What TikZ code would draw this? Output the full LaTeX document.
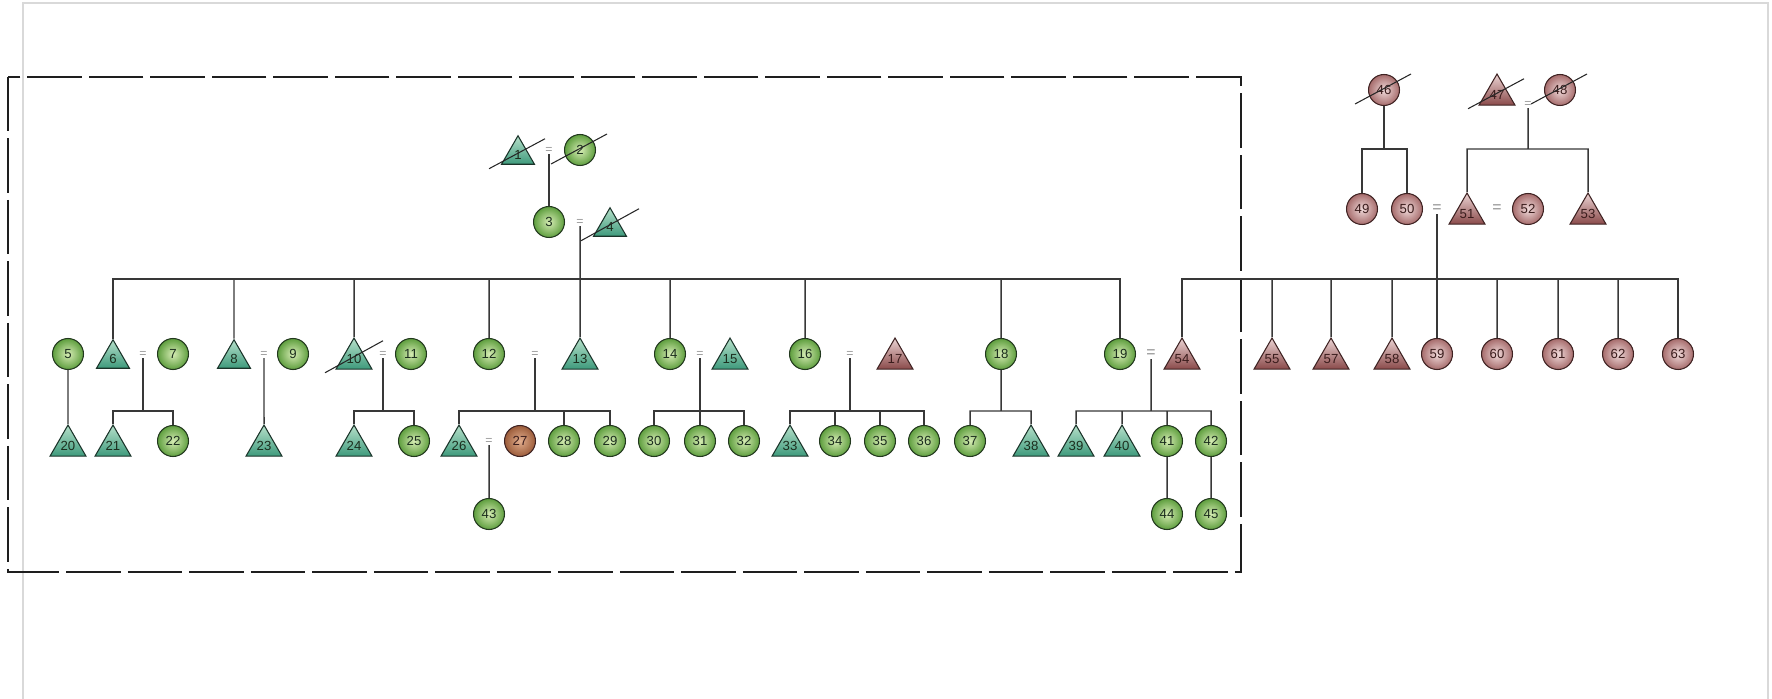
\documentclass[tikz,border=0pt]{standalone}
\usepackage{fontspec}
\setmainfont{Liberation Sans}
\usepackage{tikz}
\usetikzlibrary{shapes.geometric,calc}
\definecolor{pdInk}{HTML}{383838}
\definecolor{pdFrame}{HTML}{1E1E1E}
\definecolor{pdPage}{HTML}{D9D9D9}
\definecolor{pdGreenIn}{HTML}{D6ECB4}
\definecolor{pdGreenOut}{HTML}{5E9E3E}
\definecolor{pdGreenLine}{HTML}{22381E}
\definecolor{pdGreenTxt}{HTML}{1C2E1E}
\definecolor{pdTealTop}{HTML}{B6E0CA}
\definecolor{pdTealBot}{HTML}{3E9A7C}
\definecolor{pdTealLine}{HTML}{1A3329}
\definecolor{pdRoseIn}{HTML}{F0DADA}
\definecolor{pdRoseOut}{HTML}{A66C6C}
\definecolor{pdRoseTop}{HTML}{ECD4D4}
\definecolor{pdRoseBot}{HTML}{8A4A4A}
\definecolor{pdRoseLine}{HTML}{3E2222}
\definecolor{pdRoseTxt}{HTML}{3A1C1C}
\definecolor{pdBrownIn}{HTML}{E2AE8E}
\definecolor{pdBrownOut}{HTML}{9C5C3A}
\newcommand{\pdnum}{\fontsize{7.5}{8}\selectfont}
\tikzset{
  gcirc/.style={circle,minimum size=0.62cm,inner sep=0pt,
    draw=pdGreenLine,line width=0.6pt,
    inner color=pdGreenIn,outer color=pdGreenOut,
    text=pdGreenTxt,font=\pdnum},
  gtri/.style={regular polygon,regular polygon sides=3,
    minimum size=0.76cm,inner sep=0pt,yshift=-0.095cm,
    draw=pdTealLine,line width=0.6pt,
    top color=pdTealTop,bottom color=pdTealBot,
    text=pdGreenTxt,font=\pdnum},
  rcirc/.style={circle,minimum size=0.62cm,inner sep=0pt,
    draw=pdRoseLine,line width=0.6pt,
    inner color=pdRoseIn,outer color=pdRoseOut,
    text=pdRoseTxt,font=\pdnum},
  rtri/.style={regular polygon,regular polygon sides=3,
    minimum size=0.76cm,inner sep=0pt,yshift=-0.095cm,
    draw=pdRoseLine,line width=0.6pt,
    top color=pdRoseTop,bottom color=pdRoseBot,
    text=pdRoseTxt,font=\pdnum},
  bcirc/.style={gcirc,draw=pdRoseLine,
    inner color=pdBrownIn,outer color=pdBrownOut,text=pdRoseTxt},
  eqsign/.style={inner sep=0.5pt,font=\scriptsize,text=black!40},
  eqbig/.style={inner sep=0.5pt,font=\small,text=black!45},
  kin/.style={draw=pdInk,line width=0.85pt},
  strike/.style={draw=black!85,line width=0.6pt},
  famframe/.style={draw=pdFrame,line width=1.3pt,dash pattern=on 31pt off 4pt},
  pageline/.style={draw=pdPage,line width=0.8pt},
}
\begin{document}
\begin{tikzpicture}[x=0.02cm,y=-0.02cm]
  \useasboundingbox (0,0) rectangle (1772,699);
  \draw[pageline] (23,699) -- (23,3) -- (1768,3) -- (1768,699);
  \draw[famframe] (8,77) rectangle (1241,572);

  \coordinate (tbar) at (0,149);
  \coordinate (gbar) at (0,279);
  \coordinate (sbar) at (0,411);

  % grandparents and parents
  \node[gtri] (n1) at (518,150) {1};
  \node[eqsign] (m12) at (549,150) {=};
  \node[gcirc] (n2) at (580,150) {2};
  \node[gcirc] (n3) at (549,222) {3};
  \node[eqsign] (m34) at (580,222) {=};
  \node[gtri] (n4) at (610,222) {4};

  % children of 3 and 4
  \node[gcirc] (n5) at (68,354) {5};
  \node[gtri] (n6) at (113,354) {6};
  \node[eqsign] (m67) at (143,354) {=};
  \node[gcirc] (n7) at (173,354) {7};
  \node[gtri] (n8) at (234,354) {8};
  \node[eqsign] (m89) at (264,354) {=};
  \node[gcirc] (n9) at (293,354) {9};
  \node[gtri] (n10) at (354,354) {10};
  \node[eqsign] (m1011) at (383,354) {=};
  \node[gcirc] (n11) at (411,354) {11};
  \node[gcirc] (n12) at (489,354) {12};
  \node[eqsign] (m1213) at (535,354) {=};
  \node[gtri] (n13) at (580,354) {13};
  \node[gcirc] (n14) at (670,354) {14};
  \node[eqsign] (m1415) at (700,354) {=};
  \node[gtri] (n15) at (730,354) {15};
  \node[gcirc] (n16) at (805,354) {16};
  \node[eqsign] (m1617) at (850,354) {=};
  \node[rtri] (n17) at (895,354) {17};
  \node[gcirc] (n18) at (1001,354) {18};
  \node[gcirc] (n19) at (1120,354) {19};
  \node[eqbig] (m1954) at (1151,354) {=};

  % grandchildren
  \node[gtri] (n20) at (68,441) {20};
  \node[gtri] (n21) at (113,441) {21};
  \node[gcirc] (n22) at (173,441) {22};
  \node[gtri] (n23) at (264,441) {23};
  \node[gtri] (n24) at (354,441) {24};
  \node[gcirc] (n25) at (414,441) {25};
  \node[gtri] (n26) at (459,441) {26};
  \node[eqsign] (m2627) at (489,441) {=};
  \node[bcirc] (n27) at (520,441) {27};
  \node[gcirc] (n28) at (564,441) {28};
  \node[gcirc] (n29) at (610,441) {29};
  \node[gcirc] (n30) at (654,441) {30};
  \node[gcirc] (n31) at (700,441) {31};
  \node[gcirc] (n32) at (744,441) {32};
  \node[gtri] (n33) at (790,441) {33};
  \node[gcirc] (n34) at (835,441) {34};
  \node[gcirc] (n35) at (880,441) {35};
  \node[gcirc] (n36) at (924,441) {36};
  \node[gcirc] (n37) at (970,441) {37};
  \node[gtri] (n38) at (1031,441) {38};
  \node[gtri] (n39) at (1076,441) {39};
  \node[gtri] (n40) at (1122,441) {40};
  \node[gcirc] (n41) at (1167,441) {41};
  \node[gcirc] (n42) at (1211,441) {42};
  \node[gcirc] (n43) at (489,514) {43};
  \node[gcirc] (n44) at (1167,514) {44};
  \node[gcirc] (n45) at (1211,514) {45};

  % other family
  \node[rcirc] (n46) at (1384,90) {46};
  \node[rtri] (n47) at (1497,90) {47};
  \node[eqsign] (m4748) at (1528,104) {=};
  \node[rcirc] (n48) at (1560,90) {48};
  \node[rcirc] (n49) at (1362,209) {49};
  \node[rcirc] (n50) at (1407,209) {50};
  \node[eqbig] (m5051) at (1437,209) {=};
  \node[rtri] (n51) at (1467,209) {51};
  \node[eqbig] (m5152) at (1497,209) {=};
  \node[rcirc] (n52) at (1528,209) {52};
  \node[rtri] (n53) at (1588,209) {53};
  \node[rtri] (n54) at (1182,354) {54};
  \node[rtri] (n55) at (1272,354) {55};
  \node[rtri] (n57) at (1331,354) {57};
  \node[rtri] (n58) at (1392,354) {58};
  \node[rcirc] (n59) at (1437,354) {59};
  \node[rcirc] (n60) at (1497,354) {60};
  \node[rcirc] (n61) at (1558,354) {61};
  \node[rcirc] (n62) at (1618,354) {62};
  \node[rcirc] (n63) at (1678,354) {63};

  % lines of descent
  \draw[kin] (m12) -- (n3);
  \draw[kin] (m34) -- (n13);
  \draw[kin] (n6) |- (gbar -| n19) -- (n19);
  \draw[kin] (n8) -- (n8 |- gbar) (n10) -- (n10 |- gbar)
    (n12) -- (n12 |- gbar) (n14) -- (n14 |- gbar)
    (n16) -- (n16 |- gbar) (n18) -- (n18 |- gbar);
  \draw[kin] (m67) -- (m67 |- sbar) (n21) |- (sbar -| n22) -- (n22);
  \draw[kin] (m89) -- (n23);
  \draw[kin] (m1011) -- (m1011 |- sbar) (n24) |- (sbar -| n25) -- (n25);
  \draw[kin] (m1213) -- (m1213 |- sbar) (n26) |- (sbar -| n29) -- (n29)
    (n28) -- (n28 |- sbar);
  \draw[kin] (m1415) -- (n31) (n30) |- (sbar -| n32) -- (n32);
  \draw[kin] (m1617) -- (m1617 |- sbar) (n33) |- (sbar -| n36) -- (n36)
    (n34) -- (n34 |- sbar) (n35) -- (n35 |- sbar);
  \draw[kin] (n18) -- (n18 |- sbar) (n37) |- (sbar -| n38) -- (n38);
  \draw[kin] (m1954) -- (m1954 |- sbar) (n39) |- (sbar -| n42) -- (n42)
    (n40) -- (n40 |- sbar) (n41) -- (n41 |- sbar);
  \draw[kin] (n5) -- (n20) (m2627) -- (n43) (n41) -- (n44) (n42) -- (n45);

  \draw[kin] (n46) -- (n46 |- tbar) (n49) |- (tbar -| n50) -- (n50);
  \draw[kin] (m4748) -- (m4748 |- tbar) (n51) |- (tbar -| n53) -- (n53);
  \draw[kin] (m5051) -- (n59);
  \draw[kin] (n54) |- (gbar -| n63) -- (n63);
  \draw[kin] (n55) -- (n55 |- gbar) (n57) -- (n57 |- gbar)
    (n58) -- (n58 |- gbar) (n60) -- (n60 |- gbar)
    (n61) -- (n61 |- gbar) (n62) -- (n62 |- gbar);

  % deceased
  \draw[strike] ($(n1)+(-29,14)$) -- ($(n1)+(27,-16)$);
  \draw[strike] ($(n2)+(-29,14)$) -- ($(n2)+(27,-16)$);
  \draw[strike] ($(n4)+(-29,14)$) -- ($(n4)+(29,-18)$);
  \draw[strike] ($(n10)+(-29,14)$) -- ($(n10)+(29,-18)$);
  \draw[strike] ($(n46)+(-29,14)$) -- ($(n46)+(27,-16)$);
  \draw[strike] ($(n47)+(-29,14)$) -- ($(n47)+(27,-16)$);
  \draw[strike] ($(n48)+(-29,14)$) -- ($(n48)+(27,-16)$);
\end{tikzpicture}
\end{document}
